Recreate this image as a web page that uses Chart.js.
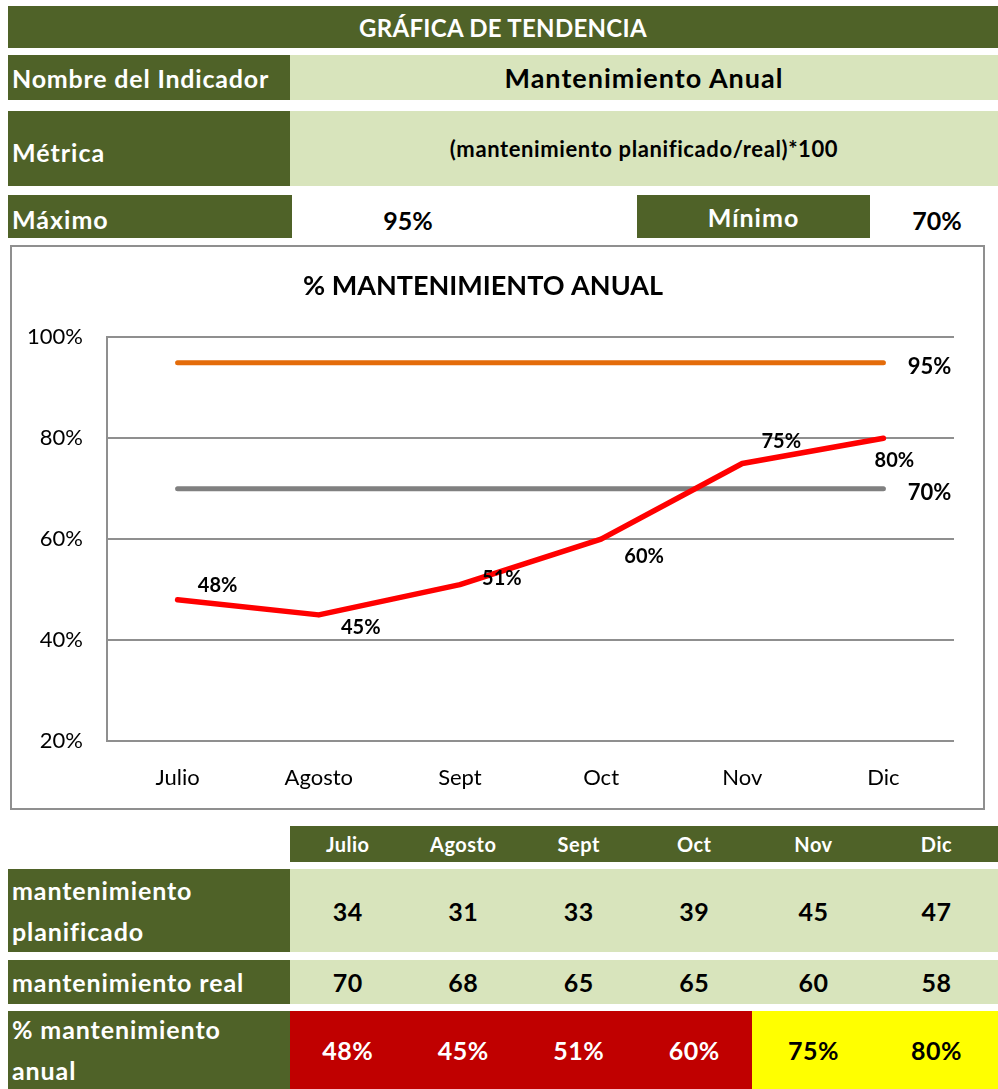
<!DOCTYPE html>
<html>
<head>
<meta charset="utf-8">
<script src="https://cdn.jsdelivr.net/npm/chart.js@4"></script>
<style>
  body { margin: 0; background: #fff; font-family: Lato, "Open Sans", sans-serif; }
  .box { position: absolute; display: flex; align-items: center; box-sizing: border-box; font-weight: bold; white-space: nowrap; }
  .dark { background: #4F6228; color: #fff; }
  .light { background: #D8E4BC; color: #000; }
  .center { justify-content: center; }
  .row { position: absolute; display: flex; left: 290px; width: 708px; }
  .row .box { position: static; justify-content: center; height: 100%; }
  #chartBox { position: absolute; left: 10px; top: 245px; width: 975px; height: 565px; border: 2px solid #8f8f8f; box-sizing: border-box; }
</style>
</head>
<body>
<div class="box dark center" style="left:8px;top:6px;width:990px;height:42px;font-size:24px;letter-spacing:0.3px;">GRÁFICA DE TENDENCIA</div>
<div class="box dark" style="left:8px;top:55px;width:282px;height:45px;font-size:25px;padding-left:4px;letter-spacing:0.8px;">Nombre del Indicador</div>
<div class="box light center" style="left:290px;top:55px;width:708px;height:45px;font-size:27px;letter-spacing:1px;">Mantenimiento Anual</div>
<div class="box dark" style="left:8px;top:111px;width:282px;height:75px;font-size:25px;padding-left:4px;padding-top:6px;letter-spacing:1px;">Métrica</div>
<div class="box light center" style="left:290px;top:111px;width:708px;height:75px;font-size:22px;letter-spacing:0.6px;">(mantenimiento planificado/real)*100</div>
<div class="box dark" style="left:8px;top:195px;width:284px;height:43px;font-size:25px;padding-left:4px;padding-top:4px;letter-spacing:1px;">Máximo</div>
<div class="box center" id="maxVal" style="left:360px;top:198px;width:96px;height:43px;font-size:25px;"></div>
<div class="box dark center" style="left:637px;top:195px;width:233px;height:43px;font-size:25px;letter-spacing:1px;">Mínimo</div>
<div class="box center" id="minVal" style="left:889px;top:198px;width:96px;height:43px;font-size:25px;"></div>

<div id="chartBox"><canvas id="trend"></canvas></div>

<div id="tabla"></div>

<script>
// datos
const meses = ['Julio', 'Agosto', 'Sept', 'Oct', 'Nov', 'Dic'];
const planificado = [34, 31, 33, 39, 45, 47];
const real = [70, 68, 65, 65, 60, 58];
const porcentaje = [48, 45, 51, 60, 75, 80];
const maximo = 95;
const minimo = 70;
const yMin = 20, yMax = 100, yStep = 20;

document.getElementById('maxVal').textContent = maximo + '%';
document.getElementById('minVal').textContent = minimo + '%';

// tabla inferior
const anchos = [115.5, 115.5, 115.5, 115.5, 123, 123];
const tabla = document.getElementById('tabla');
function fila(top, height, textos, clase, colores, size) {
    const r = document.createElement('div');
    r.className = 'row';
    r.style.top = top + 'px';
    r.style.height = height + 'px';
    textos.forEach((t, i) => {
        const c = document.createElement('div');
        c.className = 'box ' + clase;
        c.style.width = anchos[i] + 'px';
        c.style.fontSize = size + 'px';
        c.style.letterSpacing = '0.5px';
        if (colores) { c.style.background = colores[i][0]; c.style.color = colores[i][1]; }
        c.textContent = t;
        r.appendChild(c);
    });
    tabla.appendChild(r);
}
function etiqueta(top, height, html) {
    const d = document.createElement('div');
    d.className = 'box dark';
    d.style.cssText = 'left:8px;top:' + top + 'px;width:282px;height:' + height + 'px;font-size:25px;padding-left:4px;line-height:41px;letter-spacing:0.9px;';
    d.innerHTML = html;
    tabla.appendChild(d);
}
fila(826, 36, meses, 'dark', null, 20);
etiqueta(869, 83, 'mantenimiento<br>planificado');
fila(869, 83, planificado, 'light', null, 25);
etiqueta(960, 44, 'mantenimiento real');
fila(960, 44, real, 'light', null, 25);
etiqueta(1011, 78, '% mantenimiento<br>anual');
fila(1011, 78, porcentaje.map(v => v + '%'), '', porcentaje.map(v => v < minimo ? ['#C00000', '#fff'] : ['#FFFF00', '#000']), 25);

// etiquetas de la grafica
const desfases = [[40, -14], [42, 13], [42, -6], [43, 17], [39, -22], [11, 22]];
const etiquetasPlugin = {
    id: 'etiquetas',
    afterDatasetsDraw(chart) {
        const ctx = chart.ctx;
        ctx.save();
        ctx.font = 'bold 20px Lato';
        ctx.fillStyle = '#000';
        ctx.textAlign = 'center';
        ctx.textBaseline = 'middle';
        chart.getDatasetMeta(0).data.forEach((p, i) => {
            ctx.fillText(porcentaje[i] + '%', p.x + desfases[i][0], p.y + desfases[i][1]);
        });
        ctx.font = 'bold 22px Lato';
        [1, 2].forEach(d => {
            const pts = chart.getDatasetMeta(d).data;
            const p = pts[pts.length - 1];
            ctx.fillText(chart.data.datasets[d].data[pts.length - 1] + '%', p.x + 46, p.y + 4);
        });
        ctx.restore();
    }
};

new Chart(
    document.getElementById('trend'),
    {
        type: 'line',
        data: {
            labels: meses,
            datasets: [
                { label: '% mantenimiento anual', data: porcentaje, borderColor: '#FF0000', borderWidth: 5.5, pointRadius: 0, borderJoinStyle: 'round', borderCapStyle: 'round' },
                { label: 'Máximo', data: meses.map(() => maximo), borderColor: '#E46C0A', borderWidth: 5, pointRadius: 0, borderCapStyle: 'round' },
                { label: 'Mínimo', data: meses.map(() => minimo), borderColor: '#808080', borderWidth: 5, pointRadius: 0, borderCapStyle: 'round' }
            ]
        },
        options: {
            responsive: true,
            maintainAspectRatio: false,
            animation: false,
            layout: { padding: { left: 0, right: 29, top: 0, bottom: 0 } },
            plugins: {
                legend: { display: false },
                tooltip: { enabled: false },
                title: {
                    display: true,
                    text: '% MANTENIMIENTO ANUAL',
                    color: '#000',
                    font: { family: 'Lato', size: 27, weight: 'bold' },
                    padding: { top: 23, bottom: 35 }
                }
            },
            scales: {
                x: {
                    offset: true,
                    grid: { display: false, drawTicks: false },
                    border: { display: false },
                    ticks: { color: '#000', font: { family: 'Lato', size: 22 }, padding: 24 },
                    afterFit: s => { s.height = 67; }
                },
                y: {
                    min: yMin, max: yMax,
                    grid: { color: '#8f8f8f', lineWidth: 2, drawTicks: false },
                    border: { display: true, color: '#8f8f8f', width: 2 },
                    ticks: { stepSize: yStep, color: '#000', font: { family: 'Lato', size: 22 }, padding: 24, callback: v => v + '%' },
                    afterFit: s => { s.width = 95; }
                }
            }
        },
        plugins: [etiquetasPlugin]
    }
);
</script>
</body>
</html>
